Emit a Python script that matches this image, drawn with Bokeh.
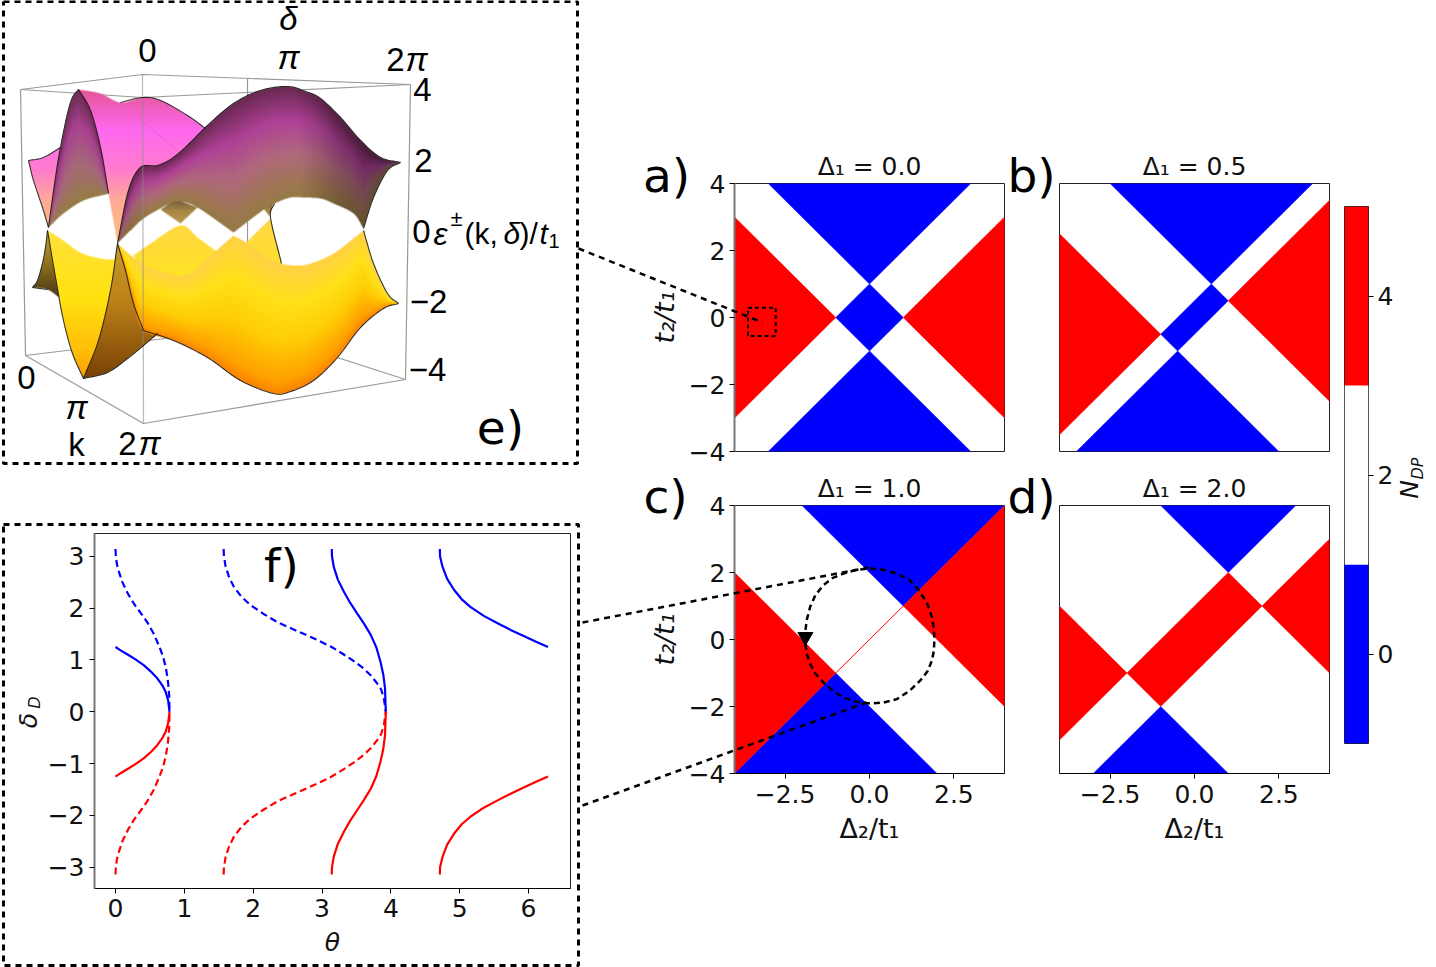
import numpy as np
from bokeh.plotting import figure
from bokeh.models import Range1d, FixedTicker
from bokeh.core.properties import value
from bokeh.embed import file_html
from bokeh.resources import INLINE

DJ = "DejaVu Sans"
LB = "Liberation Sans"
BLUE, RED = "#0000ff", "#ff0000"

# ---- phase diagrams: regions in (Delta_2, t_2) -------------------------------------
titles = ["Δ₁ = 0.0", "Δ₁ = 0.5", "Δ₁ = 1.0", "Δ₁ = 2.0"]
a_blue = [([-3, 3, 0], [4, 4, 1]), ([-3, 3, 0], [-4, -4, -1]), ([-1, 0, 1, 0], [0, 1, 0, -1])]
a_red = [([-4, -1, -4], [3, 0, -3]), ([4, 1, 4], [3, 0, -3])]
b_blue = [([-2.5, 3.5, 0.5], [4, 4, 1]), ([-3.5, 2.5, -0.5], [-4, -4, -1]),
          ([0.5, 1, -0.5, -1], [1, 0.5, -1, -0.5])]
b_red = [([-4, -1, -4], [2.5, -0.5, -3.5]), ([4, 1, 4], [3.5, 0.5, -2.5])]
c_blue = [([-2, 4, 1], [4, 4, 1]), ([-4, -1, 2], [-4, -1, -4])]
c_red = [([4, 1, 4], [4, 1, -2]), ([-4, -1, -4], [2, -1, -4])]
d_blue = [([-1, 3, 1], [4, 4, 2]), ([-3, 1, -1], [-4, -4, -2])]
d_red = [([-2, 1, 2, -1], [-1, 2, 1, -2]), ([-4, -2, -4], [1, -1, -3]), ([4, 2, 4], [3, 1, -1])]
c_line_x, c_line_y = [-1, 1], [-1, 1]
c_loop_x = [-1.90, -1.86, -1.76, -1.60, -1.37, -1.08, -0.77, -0.38, 0.02, 0.42, 0.81, 1.20, 1.50, 1.72, 1.85, 1.91, 1.92,
            1.91, 1.85, 1.70, 1.46, 1.18, 0.81, 0.42, 0.02, -0.38, -0.77, -1.10, -1.37, -1.60, -1.76, -1.86, -1.91]
c_loop_y = [-0.13, -0.42, -0.73, -1.02, -1.28, -1.53, -1.73, -1.86, -1.91, -1.88, -1.78, -1.52, -1.23, -0.95, -0.63, -0.32, -0.03,
            0.30, 0.67, 1.10, 1.47, 1.78, 1.97, 2.08, 2.12, 2.08, 1.97, 1.83, 1.62, 1.33, 0.97, 0.58, 0.17]
c_arrow = (-1.9, 0.08)
a_box_x = [-3.6, -2.78, -2.78, -3.6, -3.6]
a_box_y = [0.29, 0.29, -0.55, -0.55, 0.29]

# ---- colourbar ---------------------------------------------------------------------
cb_low = [-1, 1, 3]
cb_high = [1, 3, 5]
cb_col = [BLUE, "#ffffff", RED]

# ---- panel f curves ----------------------------------------------------------------
t1d = [0, 0.005, 0.02, 0.05, 0.10, 0.18, 0.27, 0.37, 0.46, 0.55, 0.63, 0.69, 0.73, 0.76, 0.78, 0.785]
d1d = [3.14, 3.0, 2.85, 2.70, 2.50, 2.28, 2.08, 1.90, 1.73, 1.52, 1.28, 1.07, 0.86, 0.62, 0.32, 0.0]
r1d = [-3.14, -3.0, -2.85, -2.70, -2.50, -2.28, -2.08, -1.90, -1.73, -1.52, -1.28, -1.07, -0.86, -0.62, -0.32, 0.0]
t1s = [0, 0.08, 0.17, 0.29, 0.41, 0.51, 0.61, 0.68, 0.73, 0.765, 0.785]
d1s = [1.25, 1.18, 1.11, 1.01, 0.90, 0.78, 0.64, 0.51, 0.38, 0.22, 0]
r1s = [-1.25, -1.18, -1.11, -1.01, -0.90, -0.78, -0.64, -0.51, -0.38, -0.22, 0]
t2d = [1.571, 1.575, 1.60, 1.65, 1.72, 1.83, 1.96, 2.15, 2.35, 2.55, 2.74, 2.94, 3.14, 3.30, 3.46, 3.60, 3.71, 3.80, 3.86, 3.90, 3.927]
d2d = [3.14, 3.0, 2.8, 2.60, 2.41, 2.22, 2.06, 1.89, 1.73, 1.61, 1.50, 1.38, 1.25, 1.12, 0.98, 0.84, 0.70, 0.55, 0.43, 0.25, 0]
r2d = [-3.14, -3.0, -2.8, -2.60, -2.41, -2.22, -2.06, -1.89, -1.73, -1.61, -1.50, -1.38, -1.25, -1.12, -0.98, -0.84, -0.70, -0.55, -0.43, -0.25, 0]
t2s = [3.142, 3.145, 3.17, 3.23, 3.32, 3.41, 3.51, 3.61, 3.71, 3.79, 3.85, 3.89, 3.915, 3.927]
d2s = [3.14, 3.0, 2.8, 2.55, 2.31, 2.10, 1.90, 1.70, 1.48, 1.24, 0.96, 0.72, 0.46, 0]
r2s = [-3.14, -3.0, -2.8, -2.55, -2.31, -2.10, -1.90, -1.70, -1.48, -1.24, -0.96, -0.72, -0.46, 0]
t3s = [4.712, 4.715, 4.75, 4.82, 4.92, 5.03, 5.16, 5.35, 5.55, 5.74, 5.93, 6.11, 6.283]
d3s = [3.14, 3.0, 2.8, 2.56, 2.35, 2.17, 2.02, 1.85, 1.71, 1.58, 1.46, 1.35, 1.25]
r3s = [-3.14, -3.0, -2.8, -2.56, -2.35, -2.17, -2.02, -1.85, -1.71, -1.58, -1.46, -1.35, -1.25]

# ---- panel e: traced outlines of the band surfaces (page pixels) --------------------
A_top = [(28, 160), (43, 157), (60, 147)]
A_bot = [(28, 160), (33, 180), (42, 207), (48, 227), (50, 213), (55, 177), (60, 147)]
B_top = [(48, 227), (55, 177), (60, 147), (67, 113), (72, 97), (78, 89), (90, 110), (100, 147), (108, 193)]
B_bot = [(48, 227), (63, 213), (83, 200), (105, 194), (108, 193)]
C_top = [(78, 89), (100, 93), (120, 102), (142, 97), (160, 100), (187, 115), (205, 128)]
C_bot = [(78, 89), (90, 110), (100, 147), (108, 193), (117, 243), (128, 190), (140, 167), (157, 165), (173, 157), (190, 142), (205, 128)]
D_top = [(117, 243), (128, 190), (140, 167), (157, 165), (173, 157), (190, 142), (207, 125), (233, 103), (260, 90), (287, 86),
         (305, 91), (320, 98), (340, 117), (360, 140), (380, 157), (400, 162)]
D_bot = [(117, 243), (130, 230), (143, 218), (158, 209), (170, 203), (180, 201), (197, 207), (233, 232), (262, 210), (274, 203),
         (290, 197), (303, 197), (320, 198), (333, 203), (353, 213), (363, 228), (373, 197), (387, 170), (400, 162)]
E1_top = [(160, 209), (170, 203), (180, 201), (197, 207)]
E1_bot = [(160, 209), (180, 223), (197, 207)]
E2_top = [(263, 208), (273, 203)]
E2_bot = [(263, 208), (269, 216), (273, 203)]
M1_top = [(133, 255), (150, 243), (180, 225), (197, 237), (215, 250)]
M1_bot = [(133, 255), (150, 275), (215, 275)]
M2_top = [(245, 243), (270, 218), (281, 263)]
M2_bot = [(245, 243), (250, 268), (281, 268)]
H_top = [(32, 287), (37, 280), (42, 263), (45, 247), (47, 230), (55, 277), (60, 298)]
H_bot = [(32, 287), (47, 289), (60, 298)]
J_top = [(47, 230), (60, 238), (80, 252), (100, 258), (114, 259), (117, 243)]
J_bot = [(47, 230), (55, 277), (63, 320), (72, 353), (83, 378), (98, 340), (110, 290), (117, 243)]
K_top = [(83, 378), (98, 340), (110, 290), (117, 243), (125, 270), (133, 303), (143, 330), (157, 333)]
K_bot = [(83, 378), (107, 372), (127, 358), (143, 345), (157, 333)]
L_top = [(117, 243), (133, 257), (150, 267), (173, 275), (190, 273), (207, 258), (233, 235), (247, 243), (263, 255), (280, 263),
         (297, 265), (310, 263), (333, 253), (363, 230), (373, 263), (387, 293), (398, 303)]
L_bot = [(117, 243), (125, 270), (133, 303), (143, 330), (173, 340), (207, 357), (240, 380), (273, 393), (290, 391), (313, 380),
         (337, 357), (360, 327), (383, 308), (398, 303)]
crease = [(137, 117), (177, 150)]
box_back = [[(20, 89), (142, 74), (410, 84)], [(20, 89), (142, 97), (410, 84)], [(25, 355), (247, 328), (405, 379)],
            [(20, 89), (25, 355)], [(410, 84), (405, 379)], [(25, 355), (143, 423), (405, 379)], [(247, 78), (247, 328)]]
box_front = [[(142, 74), (143, 423)]]
edges = [A_top, A_bot[:4], B_top, C_top[2:], D_top, [(400, 162), (387, 170), (373, 197), (363, 228)],
         [(363, 230), (373, 263), (387, 293), (398, 303)], L_bot[3:], H_top[:5], H_bot[:2], J_bot, K_bot, L_bot[:4],
         [(274, 203), (270, 217), (281, 263)]]
ramp_pink = ([89, 130, 170, 200, 243], [(228, 85, 150), (255, 105, 240), (255, 125, 205), (255, 170, 150), (250, 195, 120)])
ramp_fin = ([0, .3, .65, 1], [(105, 45, 80), (170, 65, 145), (165, 105, 120), (150, 125, 70)])
ramp_D = ([0, .3, .6, .85, 1], [(105, 40, 80), (175, 65, 150), (175, 105, 125), (160, 118, 85), (150, 122, 68)])
ramp_tan = ([201, 210, 224], [(120, 95, 60), (165, 135, 70), (190, 155, 75)])
ramp_mound = ([220, 270], [(255, 215, 70), (255, 225, 40)])
ramp_H = ([230, 260, 295], [(195, 155, 40), (150, 120, 30), (75, 55, 20)])
ramp_J = ([230, 300, 350, 380], [(255, 225, 60), (255, 225, 15), (255, 190, 10), (250, 155, 0)])
ramp_K = ([243, 300, 378], [(195, 155, 45), (190, 130, 25), (120, 65, 5)])
ramp_L = ([0, .3, .6, .9, 1], [(255, 210, 70), (255, 225, 25), (255, 205, 5), (255, 160, 0), (250, 130, 0)])

# ---- connectors and frames (page pixels) --------------------------------------------
link_a = [(578, 248), (762, 322)]
link_c1 = [(582, 622), (868, 567)]
link_c2 = [(582, 805), (866, 702)]
frame_e = [(3, 1), (577, 1), (577, 463), (3, 463), (3, 1)]
frame_f = [(3, 524), (578, 524), (578, 965), (3, 965), (3, 524)]


# =====================================================================================
def smooth(pts, thr=70.0, n=8):
    """Rounds a traced outline between its sharp corners."""
    P = np.array(pts, float)
    if len(P) < 3:
        return [tuple(q) for q in P]
    breaks = [0]
    for i in range(1, len(P) - 1):
        a, b = P[i] - P[i - 1], P[i + 1] - P[i]
        cs = a @ b / (np.linalg.norm(a) * np.linalg.norm(b))
        if np.degrees(np.arccos(np.clip(cs, -1, 1))) > thr:
            breaks.append(i)
    breaks.append(len(P) - 1)
    out = [P[0]]
    for s, e in zip(breaks[:-1], breaks[1:]):
        run = P[s:e + 1]
        ext = np.vstack([2 * run[0] - run[1], run, 2 * run[-1] - run[-2]])
        for k in range(1, len(ext) - 2):
            p0, p1, p2, p3 = ext[k - 1], ext[k], ext[k + 1], ext[k + 2]
            for u in np.linspace(0, 1, n + 1)[1:]:
                out.append(0.5 * (2 * p1 + (p2 - p0) * u + (2 * p0 - 5 * p1 + 4 * p2 - p3) * u ** 2 +
                                  (3 * p1 - p0 - 3 * p2 + p3) * u ** 3))
    return [tuple(q) for q in out]


SS = 3
EW, EH = 580, 465
xc = (np.arange(EW * SS) + 0.5) / SS
yc = (np.arange(EH * SS) + 0.5) / SS
XX, YY = np.meshgrid(xc, yc)
RGB = np.zeros((EH * SS, EW * SS, 3))
ALP = np.zeros((EH * SS, EW * SS))


def paint(top, bot, ramp, mode="y", shade=None):
    tx, ty = zip(*smooth(top))
    bx, by = zip(*smooth(bot))
    tx, bx = np.maximum.accumulate(tx), np.maximum.accumulate(bx)
    lo, hi = min(tx), max(tx)
    tv = np.interp(xc, tx, ty)[None, :]
    bv = np.interp(xc, bx, by)[None, :]
    mask = (XX >= lo) & (XX <= hi) & (YY >= tv) & (YY <= bv)
    par = YY if mode == "y" else (YY - tv) / np.maximum(bv - tv, 1e-6)
    stops, cols = ramp
    col = np.stack([np.interp(par, stops, [c[i] for c in cols]) for i in range(3)], axis=-1)
    if shade is not None:
        col = col * np.interp(XX, shade[0], shade[1])[..., None]
    RGB[mask] = col[mask]
    ALP[mask] = 1


paint(A_top, A_bot, ramp_pink)
paint(B_top, B_bot, ramp_fin, "f")
paint(C_top, C_bot, ramp_pink)
paint(E1_top, E1_bot, ramp_tan)
paint(E2_top, E2_bot, ramp_tan)
paint(M1_top, M1_bot, ramp_mound)
paint(M2_top, M2_bot, ramp_mound)
paint(D_top, D_bot, ramp_D, "f", ([117, 150, 300, 340, 400], [.85, 1, 1, .75, .55]))
paint(H_top, H_bot, ramp_H)
paint(J_top, J_bot, ramp_J)
paint(K_top, K_bot, ramp_K)
paint(L_top, L_bot, ramp_L, "f")


def down(a):
    s = a.shape
    return a.reshape(EH, SS, EW, SS, *s[2:]).mean(axis=(1, 3))


al = down(ALP)
rgb = down(RGB * ALP[..., None]) / np.maximum(al[..., None], 1e-6)
img = np.zeros((EH, EW, 4), dtype=np.uint8)
img[..., :3] = np.clip(rgb, 0, 255).astype(np.uint8)
img[..., 3] = (al * 255).astype(np.uint8)
img = img[::-1]
img32 = img.view(dtype=np.uint32).reshape(EH, EW)


def place(fig, x, y):
    fig.styles = {"position": "absolute", "left": f"{x}px", "top": f"{y}px"}
    fig.margin = 0
    return fig


# ---- small panels -------------------------------------------------------------------
def panel(x, y, title, blue, red, left, bottom):
    L = 100 if left else 4
    B = 76 if bottom else 24
    T = 50
    R = 4
    W, H = 270 + L + R, 268 + T + B
    p = figure(width=W, height=H, x_range=Range1d(-4, 4), y_range=Range1d(-4, 4), toolbar_location=None,
               output_backend="svg", min_border_left=L, min_border_right=R, min_border_top=T, min_border_bottom=B,
               title=title)
    p.title.text_font = DJ
    p.title.text_font_size = "25px"
    p.title.text_font_style = "normal"
    p.title.align = "center"
    p.title.text_color = "#111111"
    p.title.standoff = 5
    p.grid.visible = False
    p.outline_line_color = "#222222"
    p.outline_line_width = 1
    p.background_fill_color = "white"
    p.border_fill_color = None
    p.patches([r[0] for r in blue], [r[1] for r in blue], fill_color=BLUE, line_color=BLUE, line_width=0.5)
    p.patches([r[0] for r in red], [r[1] for r in red], fill_color=RED, line_color=RED, line_width=0.5)
    for ax, tick, vis, lab in ((p.xaxis, [-2.5, 0, 2.5], bottom, "Δ₂/t₁"), (p.yaxis, [-4, -2, 0, 2, 4], left, "t₂/t₁")):
        ax.visible = vis
        ax.ticker = FixedTicker(ticks=tick)
        ax.minor_tick_line_color = None
        ax.major_tick_in = 0
        ax.major_tick_out = 5
        ax.major_label_text_font = DJ
        ax.major_label_text_font_size = "25px"
        ax.major_label_text_color = "#111111"
        ax.axis_label = lab
        ax.axis_label_text_font = DJ
        ax.axis_label_text_font_size = "27px"
        ax.axis_label_text_font_style = "normal"
        ax.axis_label_text_color = "#111111"
        ax.axis_label_standoff = 6
        ax.major_label_standoff = 4
    p.xaxis.major_label_overrides = {-2.5: "−2.5", 0: "0.0", 2.5: "2.5"}
    p.xaxis.major_label_standoff = 6
    p.xaxis.axis_label_standoff = 7
    p.yaxis.axis_label_text_font_style = "italic"
    p.yaxis.axis_line_color = "#777777"
    p.yaxis.axis_line_width = 2
    p.yaxis.major_label_orientation = 0
    return place(p, x - L, y - T)


pa = panel(734, 183, titles[0], a_blue, a_red, True, False)
pb = panel(1059, 183, titles[1], b_blue, b_red, False, False)
pc = panel(734, 505, titles[2], c_blue, c_red, True, True)
pd = panel(1059, 505, titles[3], d_blue, d_red, False, True)
pa.line(a_box_x, a_box_y, line_color="black", line_width=2, line_dash="4 3")
pc.line(c_line_x, c_line_y, line_color=RED, line_width=1)
pc.line(c_loop_x, c_loop_y, line_color="black", line_width=2.5, line_dash="6 4", line_join="round")
pc.scatter([c_arrow[0]], [c_arrow[1]], marker="inverted_triangle", size=15, fill_color="black", line_color="black")

# colourbar
cbw = figure(width=24 + 2 + 60, height=537 + 4 + 4, x_range=Range1d(0, 1), y_range=Range1d(-1, 5), toolbar_location=None,
             output_backend="svg", min_border_left=2, min_border_right=60, min_border_top=4, min_border_bottom=4,
             x_axis_location=None, y_axis_location="right")
cbw.grid.visible = False
cbw.outline_line_color = "#222222"
cbw.border_fill_color = None
cbw.quad(left=0, right=1, bottom=cb_low, top=cb_high, fill_color=cb_col, line_color=None)
ax = cbw.yaxis[0]
ax.ticker = FixedTicker(ticks=[0, 2, 4])
ax.minor_tick_line_color = None
ax.major_tick_in = 0
ax.major_tick_out = 5
ax.axis_line_color = None
ax.major_label_text_font = DJ
ax.major_label_text_font_size = "25px"
ax.major_label_text_color = "#111111"
ax.major_label_standoff = 4
place(cbw, 1342, 202)

# panel f
fL, fB, fT, fR = 84, 72, 5, 5
fw = figure(width=476 + fL + fR, height=355 + fT + fB, x_range=Range1d(-0.305, 6.61), y_range=Range1d(-3.41, 3.44),
            toolbar_location=None, output_backend="svg", min_border_left=fL, min_border_right=fR,
            min_border_top=fT, min_border_bottom=fB)
fw.grid.visible = False
fw.outline_line_color = "#222222"
fw.border_fill_color = None
fw.background_fill_color = "white"
for tx, dy, colr, dash in ((t1d, d1d, BLUE, True), (t1s, d1s, BLUE, False), (t2d, d2d, BLUE, True), (t2s, d2s, BLUE, False),
                           (t3s, d3s, BLUE, False), (t1d, r1d, RED, True), (t1s, r1s, RED, False), (t2d, r2d, RED, True),
                           (t2s, r2s, RED, False), (t3s, r3s, RED, False)):
    fw.line(tx, dy, line_color=colr, line_width=2.2, line_dash="7 4" if dash else "solid", line_join="round")
for ax, tick in ((fw.xaxis, [0, 1, 2, 3, 4, 5, 6]), (fw.yaxis, [-3, -2, -1, 0, 1, 2, 3])):
    ax.ticker = FixedTicker(ticks=tick)
    ax.minor_tick_line_color = None
    ax.major_tick_in = 0
    ax.major_tick_out = 5
    ax.major_label_text_font = DJ
    ax.major_label_text_font_size = "25px"
    ax.major_label_text_color = "#111111"
    ax.major_label_standoff = 5
fw.xaxis.axis_label = "θ"
fw.xaxis.axis_label_text_font = DJ
fw.xaxis.axis_label_text_font_size = "25px"
fw.xaxis.axis_label_text_font_style = "italic"
fw.xaxis.axis_label_text_color = "#111111"
fw.xaxis.axis_label_standoff = 8
fw.yaxis.axis_line_color = "#777777"
fw.yaxis.axis_line_width = 2
place(fw, 94 - fL, 533 - fT)

# overlay
ov = figure(width=1436, height=967, x_range=Range1d(0, 1436), y_range=Range1d(0, 967), toolbar_location=None,
            output_backend="svg", min_border=0, x_axis_type=None, y_axis_type=None)
ov.grid.visible = False
ov.outline_line_color = None
ov.background_fill_color = None
ov.border_fill_color = None


def poly(pts, **kw):
    ov.line([q[0] for q in pts], [967 - q[1] for q in pts], **kw)


def T(x, y, s, size, font=DJ, style="normal", angle=0.0, align="center", base="middle", color="#111111"):
    ov.text([x], [967 - y], text=[s], text_font=value(font), text_font_size=value(f"{size}px"),
            text_font_style=value(style), angle=angle, text_align=align, text_baseline=base, text_color=color)


for seg in box_back:
    poly(seg, line_color="#999999", line_width=1.2)
ov.image_rgba(image=[img32], x=0, y=967 - EH, dw=EW, dh=EH)
poly(crease, line_color="#d84fa8", line_width=1, line_alpha=0.45)
for seg in box_front:
    poly(seg, line_color="#8a8a8a", line_width=1.2, line_alpha=0.6)
for seg in edges:
    poly(smooth(seg), line_color="#151515", line_width=1.1, line_alpha=0.85, line_join="round")

for frm in (frame_e, frame_f):
    poly(frm, line_color="black", line_width=3, line_dash="6 5")
for lk in (link_a, link_c1, link_c2):
    poly(lk, line_color="black", line_width=2.5, line_dash="6 5")

for s, x, y in (("a)", 666, 175), ("b)", 1031, 175), ("c)", 665, 496), ("d)", 1031, 496), ("e)", 500, 427), ("f)", 281, 565)):
    T(x, y, s, 47, color="#000000")

for s, x, y, st in (("0", 147, 50, "normal"), ("π", 288, 57, "italic"), ("2", 395, 59, "normal"), ("π", 416, 59, "italic"),
                    ("δ", 288, 18, "italic"), ("4", 422, 89, "normal"), ("2", 423, 160, "normal"), ("0", 421, 231, "normal"),
                    ("−2", 428, 301, "normal"), ("−4", 427, 369, "normal"), ("0", 26, 377, "normal"), ("π", 76, 407, "italic"),
                    ("k", 76, 444, "normal"), ("2", 127, 443, "normal"), ("π", 149, 443, "italic")):
    T(x, y, s, 33, LB, st, color="#000000")
T(433, 233, "ε", 32, LB, "italic", align="left", color="#000000")
T(450, 218, "±", 22, LB, align="left", color="#000000")
T(464, 233, "(k,", 30, LB, align="left", color="#000000")
T(503, 233, "δ", 30, LB, "italic", align="left", color="#000000")
T(519, 233, ")/", 30, LB, align="left", color="#000000")
T(539, 233, "t", 30, LB, "italic", align="left", color="#000000")
T(548, 240, "1", 20, LB, align="left", color="#000000")

T(28, 720, "δ", 25, DJ, "italic", angle=np.pi / 2)
T(34, 702, "D", 16, DJ, "italic", angle=np.pi / 2)
T(1409, 489, "N", 25, DJ, "italic", angle=np.pi / 2)
T(1417, 468, "DP", 16, DJ, "italic", angle=np.pi / 2)
place(ov, 0, 0)

open("out.html", "w").write(file_html([pa, pb, pc, pd, cbw, fw, ov], INLINE))
